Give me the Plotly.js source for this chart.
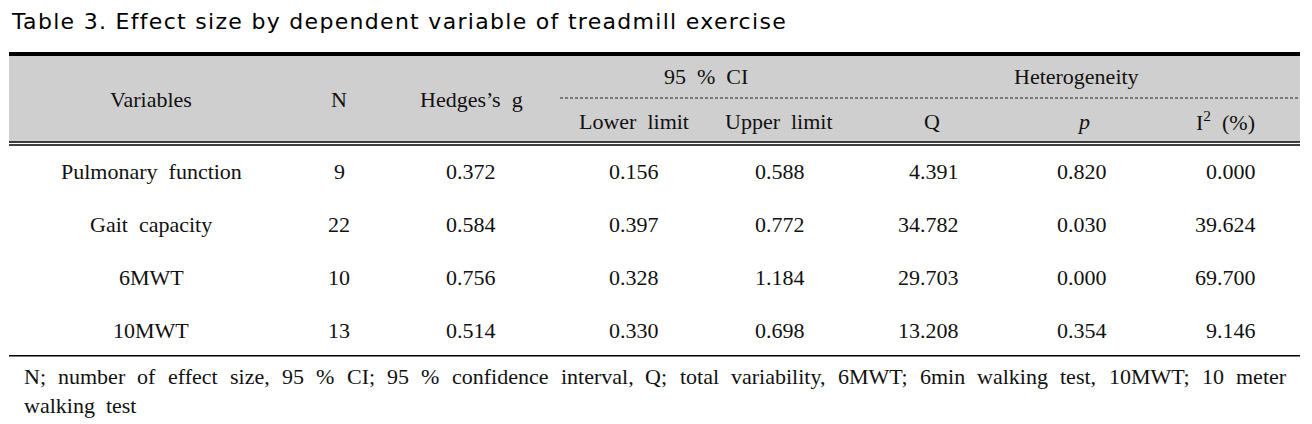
<!DOCTYPE html>
<html>
<head>
<meta charset="utf-8">
<script src="https://cdn.plot.ly/plotly-3.0.1.min.js"></script>
<style>
html,body{margin:0;padding:0;background:#fff;}
#chart{width:1312px;height:424px;}
</style>
</head>
<body>
<div id="chart"></div>
<script>
// ---------- data ----------
const titleText = 'Table 3. Effect size by dependent variable of treadmill exercise';
const variables = ['Pulmonary  function', 'Gait  capacity', '6MWT', '10MWT'];
const nValues = [9, 22, 10, 13];
const hedgesG = [0.372, 0.584, 0.756, 0.514];
const lowerLimit = [0.156, 0.397, 0.328, 0.330];
const upperLimit = [0.588, 0.772, 1.184, 0.698];
const qValues = [4.391, 34.782, 29.703, 13.208];
const pValues = [0.820, 0.030, 0.000, 0.354];
const i2Values = [0.000, 39.624, 69.700, 9.146];
const footLine1 = 'N; number of effect size, 95 % CI; 95 % confidence interval, Q; total variability, 6MWT; 6min walking test, 10MWT; 10 meter';
const footLine2 = 'walking  test';

// ---------- layout helpers ----------
const SERIF = 'Liberation Serif, Times New Roman, serif';
const FS = 22;
const INK = '#111111';
const annotations = [];
function txt(x, y, text, xanchor, extra) {
  annotations.push(Object.assign({
    xref: 'x', yref: 'y', x: x, y: y, text: text, showarrow: false,
    xanchor: xanchor || 'center', yanchor: 'middle', borderpad: 0,
    font: {family: SERIF, size: FS, color: INK}
  }, extra || {}));
}

// title (index 0)
txt(10, 21, titleText, 'left', {align: 'left', font: {family: 'DejaVu Sans, sans-serif', size: 22, color: '#000'}});

// header
const hdrRow = 99, hdrTop = 76, hdrSub = 121;
txt(151, hdrRow, 'Variables');
txt(339, hdrRow, 'N');
txt(471, hdrRow, 'Hedges\u2019s  g');
txt(706, hdrTop, '95  %  CI');
txt(1076, hdrTop, 'Heterogeneity');
txt(634, hdrSub, 'Lower  limit');
txt(779, hdrSub, 'Upper  limit');
txt(932, hdrSub, 'Q');
txt(1083, hdrSub, '<i>p</i>');
txt(1256, hdrSub, 'I<sup>2</sup>  (%)', 'right');

// body rows
const rowY = [171, 224, 277, 330];
const f3 = v => v.toFixed(3);
variables.forEach((v, i) => {
  const y = rowY[i];
  txt(151, y, v);
  txt(339, y, String(nValues[i]));
  txt(471, y, f3(hedgesG[i]));
  txt(634, y, f3(lowerLimit[i]));
  txt(780, y, f3(upperLimit[i]));
  txt(960, y, f3(qValues[i]), 'right');
  txt(1082, y, f3(pValues[i]));
  txt(1257, y, f3(i2Values[i]), 'right');
});

// footnote line 1 justified between left and right edges
(function () {
  const left = 22.5, right = 1285;
  const words = footLine1.split(' ');
  const c = document.createElement('canvas').getContext('2d');
  c.font = FS + 'px "Liberation Serif"';
  const widths = words.map(w => c.measureText(w).width);
  const total = widths.reduce((a, b) => a + b, 0);
  const gap = (right - left - total) / (words.length - 1);
  let x = left;
  words.forEach((w, i) => {
    txt(x, 376, w, 'left');
    x += widths[i] + gap;
  });
})();
txt(22.5, 405, footLine2, 'left');

// ---------- shapes (rules and header band) ----------
const L = 9, R = 1300;
const shapes = [
  {type: 'rect', xref: 'x', yref: 'y', x0: L, x1: R, y0: 55, y1: 141.5, fillcolor: '#cfcfcf', line: {width: 0}, layer: 'below'},
  {type: 'line', xref: 'x', yref: 'y', x0: L, x1: R, y0: 54, y1: 54, line: {color: '#000', width: 4}},
  {type: 'line', xref: 'x', yref: 'y', x0: 560, x1: R, y0: 98, y1: 98, line: {color: '#222', width: 1, dash: '3px,2px'}},
  {type: 'line', xref: 'x', yref: 'y', x0: L, x1: R, y0: 142, y1: 142, line: {color: '#000', width: 1.3}},
  {type: 'line', xref: 'x', yref: 'y', x0: L, x1: R, y0: 145, y1: 145, line: {color: '#000', width: 1.3}},
  {type: 'line', xref: 'x', yref: 'y', x0: L, x1: R, y0: 355.7, y1: 355.7, line: {color: '#000', width: 1.5}}
];

const layout = {
  width: 1312, height: 424,
  margin: {l: 0, r: 0, t: 0, b: 0, pad: 0},
  paper_bgcolor: '#fff', plot_bgcolor: '#fff',
  showlegend: false,
  xaxis: {range: [0, 1312], visible: false, fixedrange: true},
  yaxis: {range: [424, 0], visible: false, fixedrange: true},
  shapes: shapes,
  annotations: annotations
};

Plotly.newPlot('chart', [], layout, {staticPlot: true, displayModeBar: false}).then(gd => {
  const t = gd.querySelector('.annotation .annotation-text');
  if (t) t.style.letterSpacing = '1.3px';
});
</script>
</body>
</html>
